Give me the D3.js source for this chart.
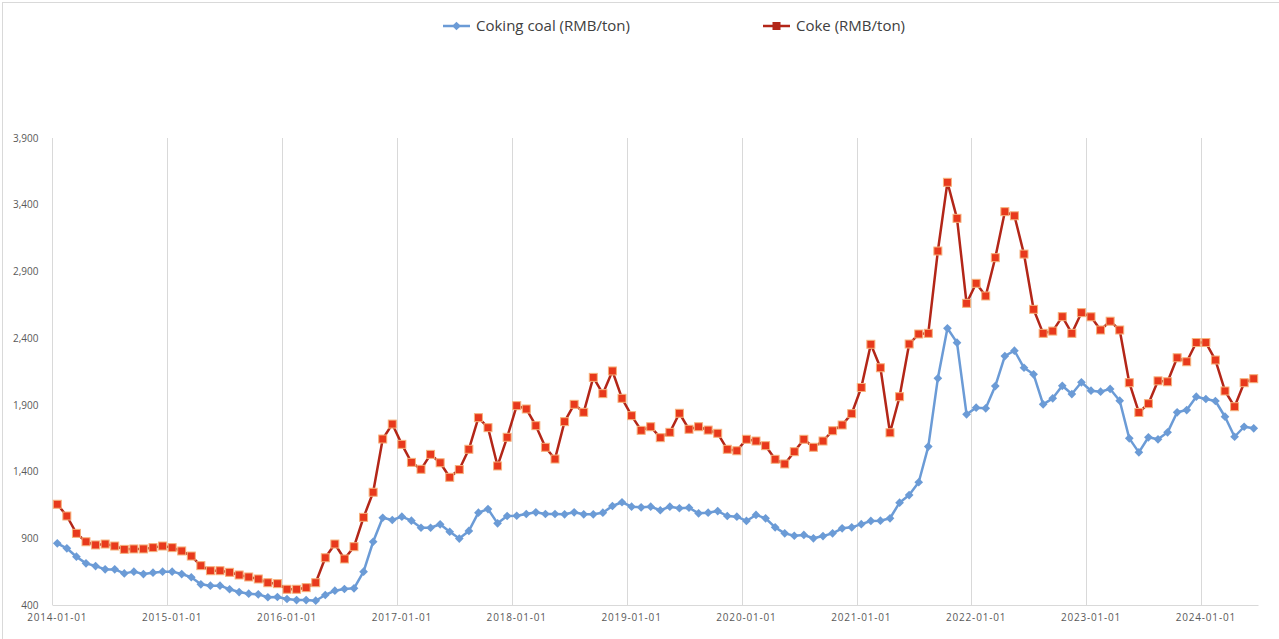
<!DOCTYPE html>
<html>
<head>
<meta charset="utf-8">
<script src="https://cdn.jsdelivr.net/npm/d3@7"></script>
<style>
  body { margin: 0; background: #fff; }
  svg { display: block; }
  .legend text { font-family: "Open Sans", sans-serif; font-size: 15px; fill: #404040; }
  .yaxis text { font-family: "Open Sans", sans-serif; font-size: 10px; fill: #595959; }
  .xaxis text { font-family: "Open Sans", sans-serif; font-size: 10px; fill: #595959; letter-spacing: 0.8px; }
</style>
</head>
<body>
<svg id="chart" width="1279" height="639"></svg>
<script>
// monthly categories 2014-01 .. 2024-06
var months = d3.timeMonth.range(new Date(2014, 0, 1), new Date(2024, 6, 1)).map(d3.timeFormat("%Y-%m-01"));

var cokingCoal = [
  862, 825, 762, 712, 692, 667, 667, 637, 650, 632, 642, 650,
  650, 632, 608, 555, 545, 545, 518, 497, 485, 480, 458, 460,
  445, 437, 437, 432, 475, 507, 520, 525, 650, 874, 1054, 1037,
  1062, 1032, 979, 979, 1005, 949, 898, 955, 1092, 1119, 1012, 1067,
  1069, 1082, 1095, 1082, 1082, 1080, 1095, 1080, 1080, 1092, 1142, 1170,
  1137, 1132, 1137, 1110, 1137, 1125, 1129, 1087, 1092, 1104, 1067, 1062,
  1030, 1075, 1050, 982, 937, 919, 925, 900, 917, 937, 975, 982,
  1006, 1030, 1032, 1050, 1167, 1224, 1320, 1587, 2099, 2474, 2366, 1829,
  1879, 1874, 2041, 2266, 2306, 2178, 2129, 1904, 1949, 2043, 1981, 2069,
  2006, 1999, 2019, 1931, 1649, 1544, 1657, 1642, 1694, 1844, 1861, 1961,
  1944, 1929, 1811, 1661, 1736, 1724
];

var coke = [
  1155, 1067, 937, 874, 850, 857, 842, 817, 820, 820, 830, 842,
  830, 805, 767, 695, 657, 657, 645, 625, 610, 595, 567, 560,
  518, 518, 530, 567, 754, 857, 745, 837, 1057, 1245, 1644, 1756,
  1604, 1469, 1417, 1529, 1466, 1357, 1415, 1567, 1804, 1729, 1442, 1657,
  1894, 1869, 1744, 1582, 1494, 1774, 1904, 1844, 2106, 1984, 2154, 1949,
  1819, 1709, 1736, 1654, 1694, 1837, 1717, 1736, 1711, 1687, 1567, 1556,
  1642, 1629, 1594, 1492, 1457, 1549, 1642, 1582, 1629, 1706, 1749, 1834,
  2030, 2354, 2178, 1691, 1961, 2356, 2431, 2436, 3053, 3568, 3298, 2661,
  2811, 2716, 3003, 3348, 3317, 3030, 2616, 2436, 2453, 2561, 2436, 2591,
  2560, 2461, 2527, 2461, 2066, 1843, 1909, 2080, 2073, 2253, 2223, 2367,
  2367, 2236, 2004, 1886, 2066, 2096
];

var yTicks = [400, 900, 1400, 1900, 2400, 2900, 3400, 3900];
var xTicks = ["2014-01-01", "2015-01-01", "2016-01-01", "2017-01-01", "2018-01-01", "2019-01-01",
              "2020-01-01", "2021-01-01", "2022-01-01", "2023-01-01", "2024-01-01"];

var blue = "#6b9bd6";
var redLine = "#b32618";
var redFill = "#e8391c";
var redEdge = "#f6b27c";

var svg = d3.select("#chart");

// outer frame
svg.append("rect")
   .attr("x", 2.5).attr("y", 2.5)
   .attr("width", 1290).attr("height", 650)
   .attr("fill", "none")
   .attr("stroke", "#d9d9d9");

var x = d3.scaleBand().domain(months).range([52.5, 1258.5]);
var y = d3.scaleLinear().domain([400, 3900]).range([605, 138]);

// vertical gridlines on year boundaries
svg.append("g")
   .selectAll("line")
   .data(xTicks.slice(1))
   .enter()
   .append("line")
   .attr("x1", function(d) { return Math.round(x(d)) + 0.5 })
   .attr("x2", function(d) { return Math.round(x(d)) + 0.5 })
   .attr("y1", y(3900))
   .attr("y2", y(400))
   .attr("stroke", "#d9d9d9")
   .attr("stroke-width", 1);

// axis lines
svg.append("line")
   .attr("x1", 52.5).attr("x2", 52.5)
   .attr("y1", y(3900)).attr("y2", y(400))
   .attr("stroke", "#d9d9d9");
svg.append("line")
   .attr("x1", 52.5).attr("x2", 1258.5)
   .attr("y1", y(400) + 0.5).attr("y2", y(400) + 0.5)
   .attr("stroke", "#d9d9d9");

var yAxis = svg.append("g")
   .attr("class", "yaxis")
   .attr("transform", "translate(52.5,0)")
   .call(d3.axisLeft(y).tickValues(yTicks).tickFormat(d3.format(",")).tickSize(0).tickPadding(14));
yAxis.select(".domain").remove();

var xAxis = svg.append("g")
   .attr("class", "xaxis")
   .attr("transform", "translate(0," + y(400) + ")")
   .call(d3.axisBottom(x).tickValues(xTicks).tickSize(0).tickPadding(9));
xAxis.select(".domain").remove();

var makeLine = d3.line()
                 .x(function(d, i) { return x(months[i]) + x.bandwidth() / 2 })
                 .y(function(d) { return y(d) });

// coking coal
svg.append("path")
   .datum(cokingCoal)
   .attr("fill", "none")
   .attr("stroke", blue)
   .attr("stroke-width", 2.5)
   .attr("stroke-linejoin", "round")
   .attr("d", makeLine);

var diamond = d3.symbol().type(d3.symbolSquare).size(38);

svg.append("g")
   .selectAll("path")
   .data(cokingCoal)
   .enter()
   .append("path")
   .attr("d", diamond)
   .attr("fill", blue)
   .attr("transform", function(d, i) {
      return "translate(" + (x(months[i]) + x.bandwidth() / 2) + "," + y(d) + ") rotate(45)";
   });

// coke
svg.append("path")
   .datum(coke)
   .attr("fill", "none")
   .attr("stroke", redLine)
   .attr("stroke-width", 2.5)
   .attr("stroke-linejoin", "round")
   .attr("d", makeLine);

svg.append("g")
   .selectAll("rect")
   .data(coke)
   .enter()
   .append("rect")
   .attr("x", function(d, i) { return x(months[i]) + x.bandwidth() / 2 - 4 })
   .attr("y", function(d) { return y(d) - 4 })
   .attr("width", 8)
   .attr("height", 8)
   .attr("fill", redFill)
   .attr("stroke", redEdge)
   .attr("stroke-width", 1);

// legend
var legendItems = [
  { name: "Coking coal (RMB/ton)", x: 443, type: "diamond" },
  { name: "Coke (RMB/ton)", x: 763, type: "square" }
];

var legend = svg.append("g").attr("class", "legend");

legendItems.forEach(function(item) {
  var g = legend.append("g").attr("transform", "translate(" + item.x + ",26)");
  g.append("line")
   .attr("x1", 0).attr("x2", 27)
   .attr("stroke", item.type == "diamond" ? blue : redLine)
   .attr("stroke-width", 2.5);
  if (item.type == "diamond") {
    g.append("path")
     .attr("d", diamond)
     .attr("fill", blue)
     .attr("transform", "translate(13.5,0) rotate(45)");
  } else {
    g.append("rect")
     .attr("x", 9.5).attr("y", -4)
     .attr("width", 8).attr("height", 8)
     .attr("fill", redLine);
  }
  g.append("text")
   .attr("x", 33)
   .attr("dy", "0.35em")
   .text(item.name);
});
</script>
</body>
</html>
